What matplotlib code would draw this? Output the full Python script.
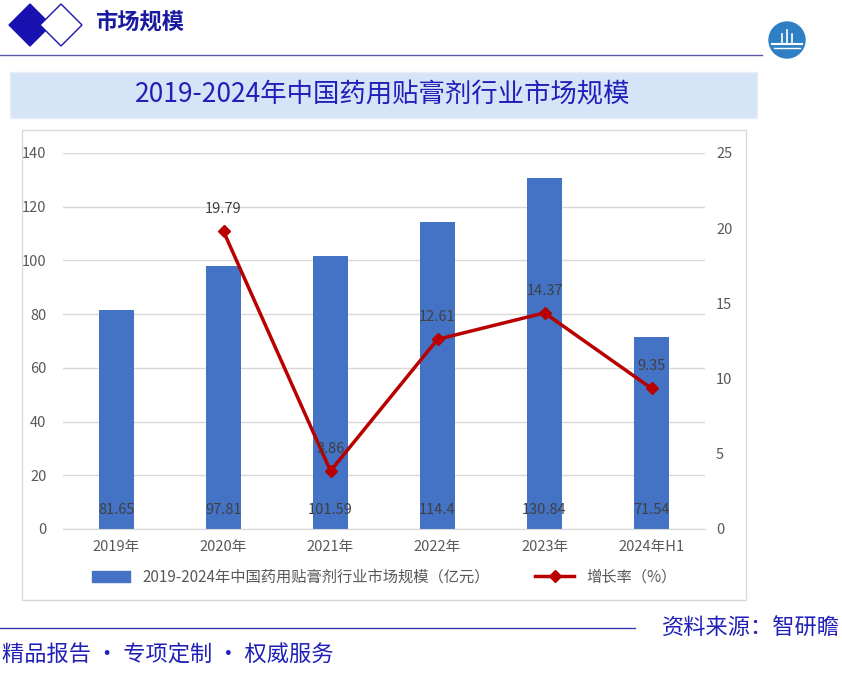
import matplotlib.pyplot as plt
from matplotlib.patches import Polygon, Rectangle, Circle
from matplotlib.lines import Line2D

plt.rcParams['font.family'] = ['Noto Sans CJK SC', 'DejaVu Sans']

years = ['2019年', '2020年', '2021年', '2022年', '2023年', '2024年H1']
market = [81.65, 97.81, 101.59, 114.4, 130.84, 71.54]
growth_years = ['2020年', '2021年', '2022年', '2023年', '2024年H1']
growth = [19.79, 3.86, 12.61, 14.37, 9.35]

W, H = 842, 673
fig = plt.figure(figsize=(W / 100, H / 100), dpi=100)

# decoration layer in pixel coords
bg = fig.add_axes([0, 0, 1, 1])
bg.set_xlim(0, W)
bg.set_ylim(H, 0)
bg.axis('off')

bg.add_patch(Polygon([(9, 25), (30, 4), (51, 25), (30, 46)], closed=True, color='#1a12b0'))
bg.add_patch(Polygon([(40, 25), (61, 4), (82, 25), (61, 46)], closed=True,
                     facecolor='white', edgecolor='#1a12b0', lw=1))
bg.text(95, 22, '市场规模', fontsize=16, fontweight='bold', color='#1a1aa0', va='center')
bg.plot([0, 762], [55, 55], color='#5a5aa8', lw=1)
bg.add_patch(Circle((787, 40), 18, color='#2f7fc4'))
bg.plot([772, 802], [44, 44], color='white', lw=1.5)
bg.plot([774, 800], [48, 48], color='white', lw=1)
for xx, hh in [(782, 10), (787, 14), (792, 10)]:
    bg.plot([xx, xx], [44, 44 - hh], color='white', lw=1.2)

bg.add_patch(Rectangle((10, 72), 747, 46, facecolor='#d6e4f8', edgecolor='#e8eef8', lw=1))
bg.text(383, 95, '2019-2024年中国药用贴膏剂行业市场规模', fontsize=19, color='#2020b8',
        ha='center', va='center')

bg.add_patch(Rectangle((22, 130), 724, 470, facecolor='white', edgecolor='#d9d9d9', lw=1))

bg.plot([0, 635], [628, 628], color='#3a3ab0', lw=1)
bg.text(840, 627, '资料来源：智研瞻', fontsize=16, color='#2020b8', ha='right', va='center')
bg.text(2, 655, '精品报告 • 专项定制 • 权威服务', fontsize=16, color='#2020b8', ha='left', va='center')

# chart
left, right, top, bottom = 63, 705, 153, 529
ax = fig.add_axes([left / W, 1 - bottom / H, (right - left) / W, (bottom - top) / H])
ax.patch.set_alpha(0)
x = list(range(len(years)))
ax.bar(x, market, width=0.32, color='#4472c4', zorder=2)
ax.set_xlim(-0.5, len(years) - 0.5)
ax.set_ylim(0, 140)
ax.set_yticks(range(0, 141, 20))
ax.grid(axis='y', color='#d9d9d9', lw=1, zorder=0)
for s in ax.spines.values():
    s.set_visible(False)
ax.spines['bottom'].set_visible(True)
ax.spines['bottom'].set_color('#d9d9d9')
ax.tick_params(length=0, labelsize=10.5, labelcolor='#595959', pad=12)
ax.set_xticks(x)
ax.set_xticklabels(years)
ax.tick_params(axis='x', pad=8)
for xi, v in zip(x, market):
    ax.text(xi, 7, f'{v:g}', ha='center', va='center', fontsize=10.5, color='#404040', zorder=4)

ax2 = ax.twinx()
ax2.set_ylim(0, 25)
ax2.set_yticks(range(0, 26, 5))
for s in ax2.spines.values():
    s.set_visible(False)
ax2.tick_params(length=0, labelsize=10.5, labelcolor='#595959', pad=8)
gx = [years.index(g) for g in growth_years]
ax2.plot(gx, growth, color='#b80000', lw=2.5, marker='D', markersize=6, zorder=3)
for xi, v in zip(gx, growth):
    ax2.annotate(f'{v:g}', (xi, v), xytext=(0, 11), textcoords='offset points',
                 ha='center', va='bottom', fontsize=10.5, color='#404040')

handles = [Rectangle((0, 0), 1, 1, color='#4472c4'),
           Line2D([], [], color='#b80000', lw=2.5, marker='D', markersize=6)]
labels = ['2019-2024年中国药用贴膏剂行业市场规模（亿元）', '增长率（%）']
fig.legend(handles, labels, loc='center', bbox_to_anchor=(384 / W, 1 - 577 / H), ncol=2,
           frameon=False, fontsize=11, labelcolor='#595959', handlelength=2.5,
           handleheight=0.7, columnspacing=3)

fig.savefig('out.png', dpi=100)
